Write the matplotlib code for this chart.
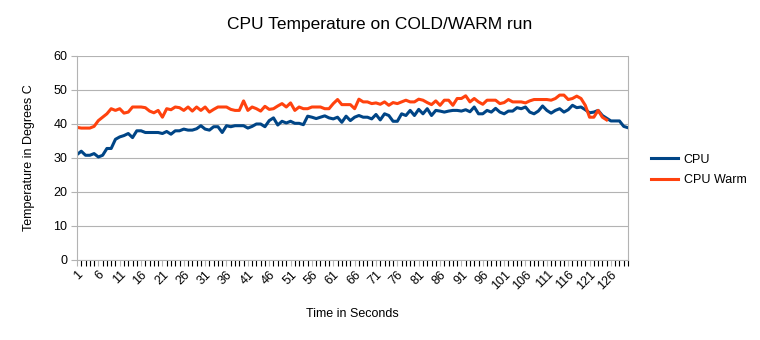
"""CPU temperature on a cold vs warm run, LibreOffice-style line chart."""

import matplotlib

matplotlib.use("Agg")
import matplotlib.pyplot as plt

plt.rcParams["font.family"] = ["Liberation Sans", "DejaVu Sans"]

cpu = [
    31, 32, 30.8, 30.8, 31.3, 30.3, 30.8, 32.8, 32.8, 35.5,
    36.2, 36.6, 37.2, 36, 38, 38, 37.5, 37.5, 37.5, 37.5,
    37.2, 37.8, 37, 38, 38, 38.5, 38.2, 38.2, 38.6, 39.5,
    38.5, 38.2, 39.2, 39.2, 37.5, 39.5, 39.2, 39.5, 39.5, 39.5,
    38.8, 39.3, 40, 40, 39.2, 41, 41.8, 39.7, 40.8, 40.3,
    40.8, 40.2, 40.2, 39.8, 42.3, 42, 41.6, 42, 42.4, 41.8,
    41.5, 42, 40.5, 42.3, 41, 42, 42.5, 42, 42, 41.5,
    42.8, 41.2, 43, 42.5, 40.8, 40.8, 43, 42.5, 44, 42.5,
    44.3, 43, 44.5, 42.5, 44, 43.8, 43.5, 43.8, 44, 44,
    43.8, 44.2, 43.6, 45, 43, 43, 44, 43.5, 44.6, 43.5,
    43, 43.8, 43.8, 44.8, 44.5, 45, 43.5, 43, 43.8, 45.3,
    44, 43.2, 44, 44.5, 43.5, 44.2, 45.5, 44.8, 45, 44.2,
    43.3, 43.5, 44, 42.5, 41.7, 40.9, 40.9, 40.9, 39.3, 38.9,
]

cpu_warm = [
    39, 38.8, 38.8, 38.8, 39.3, 41, 42, 43, 44.5, 44,
    44.5, 43.2, 43.5, 45, 45, 45, 44.8, 43.8, 43.3, 44,
    42, 44.5, 44.2, 45, 44.8, 44, 45, 43.8, 45, 44,
    45, 43.5, 44.3, 45, 45, 45, 44.3, 44, 44, 46.8,
    44, 45, 44.5, 43.8, 45.2, 44.3, 44.5, 45.3, 46, 45,
    46.2, 44, 45, 44.5, 44.5, 45, 45, 45, 44.5, 44.5,
    46, 47.2, 45.7, 45.7, 45.7, 44.5, 47.3, 46.5, 46.5, 46,
    46.2, 45.8, 46.5, 45.5, 46.3, 46, 46.5, 47, 46.5, 46.5,
    47.3, 47, 46.3, 45.7, 46.8, 45.5, 47, 47, 45.5, 47.5,
    47.5, 48.3, 46.5, 47.5, 46.5, 45.8, 47, 47, 47, 46,
    46.3, 47.2, 46.5, 46.5, 46.5, 46.2, 46.8, 47.2, 47.2, 47.2,
    47.2, 47, 47.5, 48.5, 48.5, 47.2, 47.5, 48.2, 47.5, 45.5,
    42, 42, 44, 42, 41.2,
]

seconds_cpu = list(range(1, len(cpu) + 1))
seconds_warm = list(range(1, len(cpu_warm) + 1))
x_labels = list(range(1, 127, 5))
y_ticks = [0, 10, 20, 30, 40, 50, 60]

AXIS_GREY = "#b3b3b3"

fig = plt.figure(figsize=(7.6, 3.4), dpi=100)
ax = fig.add_axes([77 / 760, 1 - 260 / 340, (628 - 77) / 760, (260 - 56) / 340])

ax.plot(seconds_cpu, cpu, color="#004586", linewidth=2.2, label="CPU", solid_joinstyle="round")
ax.plot(seconds_warm, cpu_warm, color="#ff420e", linewidth=2.2, label="CPU Warm", solid_joinstyle="round")

ax.set_xlim(1, len(cpu))
ax.set_ylim(0, 60)
ax.set_yticks(y_ticks)
ax.set_xticks(x_labels)
ax.set_xticks(seconds_cpu, minor=True)
ax.set_xticklabels([str(v) for v in x_labels], rotation=45, ha="right", rotation_mode="anchor")
ax.tick_params(axis="both", labelsize=9, colors=AXIS_GREY, labelcolor="black")
ax.tick_params(axis="x", which="both", length=4, width=0.8, pad=2)
ax.tick_params(axis="y", length=4, width=0.8, pad=3)

ax.grid(axis="y", color=AXIS_GREY, linewidth=0.8)
ax.set_axisbelow(True)
for side in ("left", "bottom", "right"):
    ax.spines[side].set_color(AXIS_GREY)
    ax.spines[side].set_linewidth(0.8)
ax.spines["top"].set_visible(False)

ax.set_xlabel("Time in Seconds", fontsize=9, labelpad=12)
ax.set_ylabel("Temperature in Degrees C", fontsize=9, labelpad=13)
fig.suptitle("CPU Temperature on COLD/WARM run", fontsize=12.5, y=1 - 25 / 340, va="center")

fig.legend(
    loc="center left",
    bbox_to_anchor=(640 / 760, 1 - 170 / 340),
    frameon=False,
    fontsize=9,
    handlelength=2.1,
    handletextpad=0.5,
    labelspacing=0.7,
)

fig.savefig("out.png", dpi=100)
